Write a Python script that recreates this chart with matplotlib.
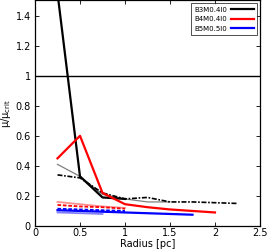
import matplotlib
matplotlib.use("Agg")
import matplotlib.pyplot as plt

# radius grid [pc]
r = [0.25, 0.5, 0.75, 1.0, 1.25, 1.5, 1.75, 2.0, 2.25]

# B3M0.4I0
b3_main = [1.55, 0.33, 0.19, 0.18]
b3_thin = [0.41, 0.33, 0.21, 0.18, 0.16, 0.16]
b3_dash = [0.34, 0.32, 0.22, 0.18, 0.19, 0.16, 0.16, 0.155, 0.15]

# B4M0.4I0
b4_main = [0.45, 0.60, 0.22, 0.145, 0.125, 0.11, 0.10, 0.09]
b4_light = [0.16, 0.145, 0.13, 0.12]
b4_dash = [0.14, 0.13, 0.125, 0.115]

# B5M0.5I0
b5_main = [0.105, 0.10, 0.095, 0.09, 0.085, 0.08, 0.075]
b5_dash = [0.115, 0.11, 0.105, 0.10]
b5_light = [0.09, 0.085, 0.08]

labels = ["B3M0.4I0", "B4M0.4I0", "B5M0.5I0"]

fig = plt.figure(figsize=(2.68, 2.49), dpi=100)
ax = fig.add_axes([0.1306, 0.0924, 0.8394, 0.9056])

# faint / dashed companions first
ax.plot(r[:len(b3_thin)], b3_thin, color="gray", lw=0.9)
ax.plot(r[:len(b3_dash)], b3_dash, color="black", lw=1.2, ls=(0, (3, 1, 1, 1)))
ax.plot(r[:len(b4_light)], b4_light, color="#ff9090", lw=1.3)
ax.plot(r[:len(b4_dash)], b4_dash, color="red", lw=1.3, ls=(0, (2, 1)))
ax.plot(r[:len(b5_light)], b5_light, color="#8080ff", lw=1.3)
ax.plot(r[:len(b5_dash)], b5_dash, color="blue", lw=1.3, ls=(0, (2, 1)))

# main curves
ax.plot(r[:len(b3_main)], b3_main, color="black", lw=1.6, label=labels[0])
ax.plot(r[:len(b4_main)], b4_main, color="red", lw=1.6, label=labels[1])
ax.plot(r[:len(b5_main)], b5_main, color="blue", lw=1.6, label=labels[2])

ax.axhline(1.0, color="black", lw=1.0)

ax.set_xlim(0, 2.5)
ax.set_ylim(0, 1.5)
ax.set_xticks([0, 0.5, 1, 1.5, 2, 2.5])
ax.set_xticklabels(["0", "0.5", "1", "1.5", "2", "2.5"])
ax.set_yticks([0, 0.2, 0.4, 0.6, 0.8, 1.0, 1.2, 1.4])
ax.set_yticklabels(["0", "0.2", "0.4", "0.6", "0.8", "1", "1.2", "1.4"])
ax.tick_params(direction="in", top=True, right=True, labelsize=7,
               length=3, width=0.6)
ax.tick_params(axis="x", pad=1.5)
ax.tick_params(axis="y", pad=3)
for s in ax.spines.values():
    s.set_linewidth(0.9)

ax.set_xlabel("Radius [pc]", fontsize=7, labelpad=0.5)
ax.set_ylabel(r"$\mathrm{\mu/\mu_{crit}}$", fontsize=7, labelpad=2)

leg = ax.legend(loc="upper right", fontsize=5, markerfirst=False,
                handlelength=3.2, frameon=True, fancybox=False,
                borderaxespad=0.4, labelspacing=0.5, handletextpad=0.6,
                borderpad=0.5)
leg.get_frame().set_edgecolor("black")
leg.get_frame().set_linewidth(0.6)

fig.savefig("out.png", dpi=100)
